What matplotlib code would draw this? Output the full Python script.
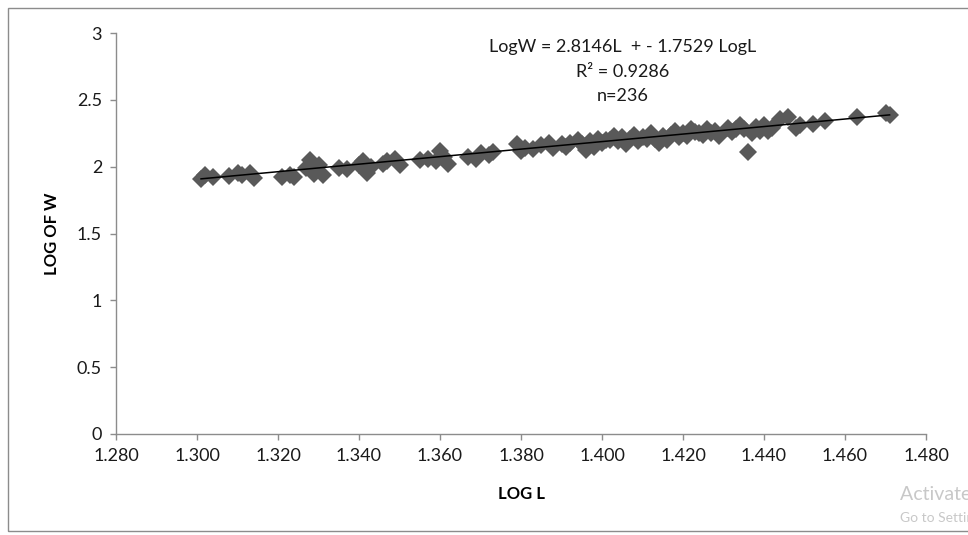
import matplotlib
matplotlib.use("Agg")
import matplotlib.pyplot as plt
from matplotlib.patches import Rectangle

# log length / log weight pairs
log_l = [1.301, 1.302, 1.304, 1.308, 1.310, 1.311, 1.313, 1.314,
         1.321, 1.323, 1.324, 1.327, 1.328, 1.329, 1.330, 1.331,
         1.335, 1.337, 1.340, 1.341, 1.342, 1.343, 1.346, 1.347,
         1.349, 1.350, 1.355, 1.357, 1.359, 1.360, 1.361, 1.362,
         1.367, 1.369, 1.370, 1.372, 1.373, 1.379, 1.380, 1.381,
         1.383, 1.385, 1.387, 1.388, 1.390, 1.391, 1.394, 1.395,
         1.396, 1.397, 1.398, 1.399, 1.400, 1.402, 1.403, 1.404,
         1.405, 1.406, 1.407, 1.408, 1.409, 1.410, 1.412, 1.413,
         1.414, 1.415, 1.416, 1.418, 1.419, 1.420, 1.421, 1.422,
         1.423, 1.425, 1.426, 1.428, 1.429, 1.431, 1.432, 1.434,
         1.435, 1.436, 1.437, 1.438, 1.440, 1.441, 1.442, 1.444,
         1.446, 1.448, 1.449, 1.452, 1.455, 1.463, 1.470, 1.471,
         1.392, 1.401, 1.411, 1.417, 1.424, 1.427, 1.433, 1.439]
log_w = [1.905, 1.935, 1.920, 1.930, 1.955, 1.940, 1.950, 1.915,
         1.925, 1.940, 1.920, 1.990, 2.050, 1.945, 2.010, 1.935,
         1.990, 1.980, 2.010, 2.040, 1.955, 2.000, 2.020, 2.040,
         2.060, 2.010, 2.050, 2.060, 2.040, 2.120, 2.070, 2.020,
         2.070, 2.060, 2.100, 2.090, 2.110, 2.170, 2.120, 2.140,
         2.130, 2.160, 2.180, 2.140, 2.170, 2.150, 2.200, 2.170,
         2.125, 2.190, 2.150, 2.210, 2.180, 2.200, 2.230, 2.190,
         2.220, 2.170, 2.210, 2.240, 2.190, 2.220, 2.250, 2.210,
         2.180, 2.230, 2.200, 2.270, 2.220, 2.250, 2.230, 2.280,
         2.260, 2.240, 2.280, 2.270, 2.230, 2.290, 2.260, 2.310,
         2.280, 2.110, 2.250, 2.300, 2.310, 2.270, 2.290, 2.360,
         2.370, 2.290, 2.310, 2.320, 2.340, 2.370, 2.400, 2.390,
         2.180, 2.200, 2.210, 2.240, 2.250, 2.250, 2.280, 2.270]

slope = 2.8146
intercept = -1.7529
fit_range = [1.301, 1.471]

x_ticks = [1.280, 1.300, 1.320, 1.340, 1.360, 1.380, 1.400, 1.420, 1.440, 1.460, 1.480]
y_ticks = [0, 0.5, 1, 1.5, 2, 2.5, 3]

plt.rcParams['font.family'] = ['Lato', 'DejaVu Sans']

fig = plt.figure(figsize=(9.68, 5.35), dpi=100)
ax = fig.add_axes([116 / 968, 101 / 535, 810 / 968, 401 / 535])

ax.plot(log_l, log_w, linestyle='none', marker='D', markersize=9.4,
        color='#595959', markeredgewidth=0)
fit_y = [slope * x + intercept for x in fit_range]
ax.plot(fit_range, fit_y, color='black', linewidth=1.1)

ax.set_xlim(1.280, 1.480)
ax.set_ylim(0, 3)
ax.set_xticks(x_ticks)
ax.set_xticklabels([f'{t:.3f}' for t in x_ticks])
ax.set_yticks(y_ticks)
ax.set_yticklabels([f'{t:g}' for t in y_ticks])

for side in ['top', 'right']:
    ax.spines[side].set_visible(False)
for side in ['left', 'bottom']:
    ax.spines[side].set_color('#8c8c8c')
    ax.spines[side].set_linewidth(1)
ax.tick_params(direction='out', length=4, width=1, color='#8c8c8c',
               labelsize=13, labelcolor='#1a1a1a', pad=6)

ax.set_xlabel('LOG L', fontsize=12, fontweight='bold', labelpad=16)
ax.set_ylabel('LOG OF W', fontsize=12, fontweight='bold', labelpad=12)

ax.text(0.626, 0.903, 'LogW = 2.8146L  + - 1.7529 LogL\nR² = 0.9286\nn=236',
        transform=ax.transAxes, ha='center', va='center', fontsize=13,
        linespacing=1.65, color='#1a1a1a')

# outer frame of the pasted chart
fig.patches.append(Rectangle((8 / 968, 4 / 535), 1.2, 523 / 535,
                             transform=fig.transFigure, fill=False,
                             edgecolor='#8c8c8c', linewidth=1))

fig.text(900 / 968, 1 - 494 / 535, 'Activate Windows', fontsize=14,
         color='#c8c8c8', va='center')
fig.text(900 / 968, 1 - 518 / 535, 'Go to Settings to activate Windows.',
         fontsize=10, color='#c8c8c8', va='center')

fig.savefig('out.png', dpi=100)
